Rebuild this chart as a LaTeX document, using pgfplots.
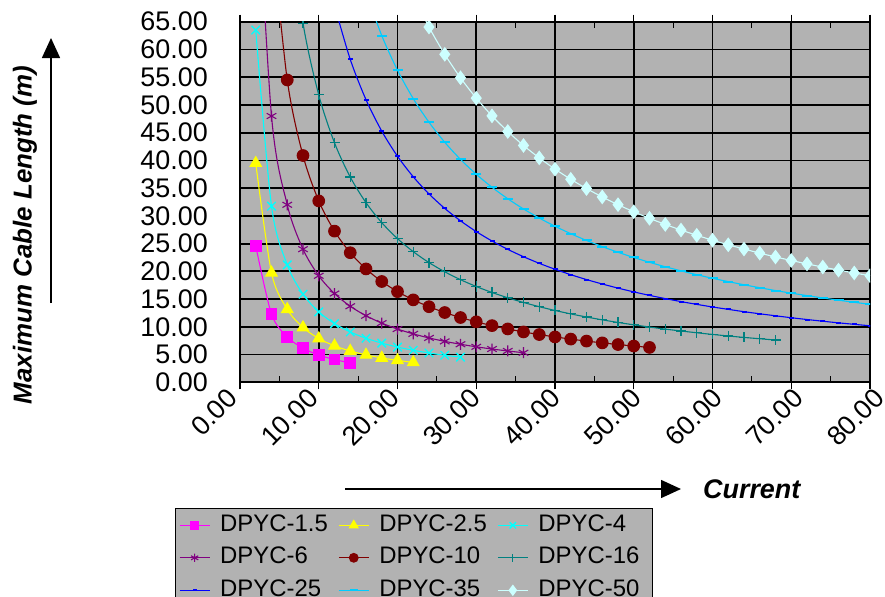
\documentclass[border=0pt]{standalone}
\usepackage{fontspec}
\setmainfont{Liberation Sans}
\usepackage{pgfplots}
\pgfplotsset{compat=1.18}
\usetikzlibrary{arrows.meta}
\definecolor{plotgray}{RGB}{178,178,178}
\definecolor{cMag}{RGB}{255,0,255}
\definecolor{cYel}{RGB}{255,255,0}
\definecolor{cCya}{RGB}{0,255,255}
\definecolor{cPur}{RGB}{128,0,128}
\definecolor{cDrd}{RGB}{128,0,0}
\definecolor{cTea}{RGB}{0,128,128}
\definecolor{cBlu}{RGB}{0,0,255}
\definecolor{cSky}{RGB}{0,204,255}
\definecolor{cLtu}{RGB}{204,255,255}
\newcommand{\lt}[1]{\makebox[124bp][l]{\hspace{8bp}#1}}
\newcommand{\ltc}[1]{\makebox[116bp][l]{\hspace{8bp}#1}}
\begin{document}
\begin{tikzpicture}
\useasboundingbox (0,0) rectangle (885bp,-597bp);
\begin{axis}[
  at={(240bp,-382.3bp)}, anchor=south west,
  scale only axis, width=630bp, height=360.6bp,
  xmin=0, xmax=80, ymin=0, ymax=65,
  xtick={0,10,...,80}, ytick={0,5,...,65},
  extra x ticks={5,15,...,75}, extra x tick labels={},
  extra x tick style={tick align=inside, grid=none, major tick length=6bp},
  tick align=outside, major tick length=7bp,
  ytick style={draw=none},
  grid=major, major grid style={black, line width=1.8bp},
  axis background/.style={fill=plotgray},
  axis line style={draw=black, line width=1.5bp},
  xtick style={black, line width=1.2bp},
  ticklabel style={font=\fontsize{27}{27}\selectfont},
  xticklabel style={xshift=-5bp+2.1bp*\ticknum, yshift=-2bp, rotate=45, anchor=east, /pgf/number format/.cd, fixed, fixed zerofill, precision=2, assume math mode=true, /tikz/.cd},
  yticklabel style={anchor=east, inner sep=0pt, xshift=-25bp, /pgf/number format/.cd, fixed, fixed zerofill, precision=2, assume math mode=true, /tikz/.cd},
  clip marker paths=true,
  legend columns=3,
  legend cell align=left,
  legend style={at={(-0.1038,-0.348)}, anchor=north west, fill=plotgray, draw=black, line width=1bp,
    font=\fontsize{24}{24}\selectfont, inner sep=4bp, row sep=6.5bp, column sep=0bp,
    nodes={inner sep=2bp, text height=17bp, text depth=5bp}},
  legend image code/.code={\draw[mark repeat=2, mark phase=2, /tikz/every mark/.append style={scale=0.75}] plot coordinates {(0bp,0bp) (15bp,0bp) (30bp,0bp)};},
  every axis plot/.append style={line width=1.1bp, smooth},
]
\addplot[cMag, mark=square*, mark size=5.3bp, mark options={fill=cMag}] coordinates {
(2,24.6) (4,12.3) (6,8.2) (8,6.15) (10,4.92) (12,4.1) (14,3.51)};
\addlegendentry{\lt{DPYC-1.5}}
\addplot[cYel, mark=triangle*, mark size=6.5bp, mark options={fill=cYel}] coordinates {
(2,39.5) (4,19.75) (6,13.17) (8,9.88) (10,7.9) (12,6.58) (14,5.64) (16,4.94) (18,4.39) (20,3.95) (22,3.59)};
\addlegendentry{\lt{DPYC-2.5}}
\addplot[cCya, mark=x, mark size=6bp, mark options={line width=1.3bp}] coordinates {
(2,63.5) (4,31.75) (6,21.17) (8,15.88) (10,12.7) (12,10.58) (14,9.07) (16,7.94) (18,7.06) (20,6.35) (22,5.77) (24,5.29) (26,4.88) (28,4.54)};
\addlegendentry{\ltc{DPYC-4}}
\addplot[cPur, mark=asterisk, mark size=5.5bp] coordinates {
(2,96) (4,48) (6,32) (8,24) (10,19.2) (12,16) (14,13.71) (16,12) (18,10.67) (20,9.6) (22,8.73) (24,8) (26,7.38) (28,6.86) (30,6.4) (32,6) (34,5.65) (36,5.33)};
\addlegendentry{\lt{DPYC-6}}
\addplot[cDrd, mark=*, mark size=5.8bp, mark options={fill=cDrd}] coordinates {
(4,81.75) (6,54.5) (8,40.88) (10,32.7) (12,27.25) (14,23.36) (16,20.44) (18,18.17) (20,16.35) (22,14.86) (24,13.63) (26,12.58) (28,11.68) (30,10.9) (32,10.22) (34,9.62) (36,9.08) (38,8.61) (40,8.18) (42,7.79) (44,7.43) (46,7.11) (48,6.81) (50,6.54) (52,6.29)};
\addlegendentry{\lt{DPYC-10}}
\addplot[cTea, mark=+, mark size=5bp] coordinates {
(6,86.33) (8,64.75) (10,51.8) (12,43.17) (14,37) (16,32.38) (18,28.78) (20,25.9) (22,23.55) (24,21.58) (26,19.92) (28,18.5) (30,17.27) (32,16.19) (34,15.24) (36,14.39) (38,13.63) (40,12.95) (42,12.33) (44,11.77) (46,11.26) (48,10.79) (50,10.36) (52,9.96) (54,9.59) (56,9.25) (58,8.93) (60,8.63) (62,8.35) (64,8.09) (66,7.85) (68,7.62)};
\addlegendentry{\ltc{DPYC-16}}
\addplot[cBlu, mark=-, mark size=2.5bp, mark options={line width=2bp}] coordinates {
(12,67.92) (14,58.21) (16,50.94) (18,45.28) (20,40.75) (22,37.05) (24,33.96) (26,31.35) (28,29.11) (30,27.17) (32,25.47) (34,23.97) (36,22.64) (38,21.45) (40,20.38) (42,19.4) (44,18.52) (46,17.72) (48,16.98) (50,16.3) (52,15.67) (54,15.09) (56,14.55) (58,14.05) (60,13.58) (62,13.15) (64,12.73) (66,12.35) (68,11.99) (70,11.64) (72,11.32) (74,11.01) (76,10.72) (78,10.45) (80,10.19)};
\addlegendentry{\lt{DPYC-25}}
\addplot[cSky, mark=-, mark size=5bp, mark options={line width=2bp}] coordinates {
(16,70.31) (18,62.5) (20,56.25) (22,51.14) (24,46.88) (26,43.27) (28,40.18) (30,37.5) (32,35.16) (34,33.09) (36,31.25) (38,29.61) (40,28.13) (42,26.79) (44,25.57) (46,24.46) (48,23.44) (50,22.5) (52,21.63) (54,20.83) (56,20.09) (58,19.4) (60,18.75) (62,18.15) (64,17.58) (66,17.05) (68,16.54) (70,16.07) (72,15.63) (74,15.2) (76,14.8) (78,14.42) (80,14.06)};
\addlegendentry{\lt{DPYC-35}}
\addplot[cLtu, mark=diamond*, mark size=6.5bp, mark options={fill=cLtu}] coordinates {
(22,69.86) (24,64.04) (26,59.12) (28,54.89) (30,51.23) (32,48.03) (34,45.21) (36,42.69) (38,40.45) (40,38.43) (42,36.6) (44,34.93) (46,33.41) (48,32.02) (50,30.74) (52,29.56) (54,28.46) (56,27.45) (58,26.5) (60,25.62) (62,24.79) (64,24.02) (66,23.29) (68,22.6) (70,21.96) (72,21.35) (74,20.77) (76,20.22) (78,19.71) (80,19.21)};
\addlegendentry{\ltc{DPYC-50}}
\end{axis}
\node[rotate=90, font=\fontsize{26}{26}\selectfont\bfseries\itshape, inner sep=0pt] at (25bp,-235bp) {Maximum Cable Length (m)};
\draw[line width=1.5bp, -{Triangle[length=20bp,width=18bp]}] (51bp,-303bp) -- (51bp,-38bp);
\draw[line width=1.5bp, -{Triangle[length=20bp,width=18bp]}] (345bp,-489bp) -- (681bp,-489bp);
\node[anchor=west, font=\fontsize{27}{27}\selectfont\bfseries\itshape, inner sep=0pt] at (703bp,-489bp) {Current};
\end{tikzpicture}
\end{document}
